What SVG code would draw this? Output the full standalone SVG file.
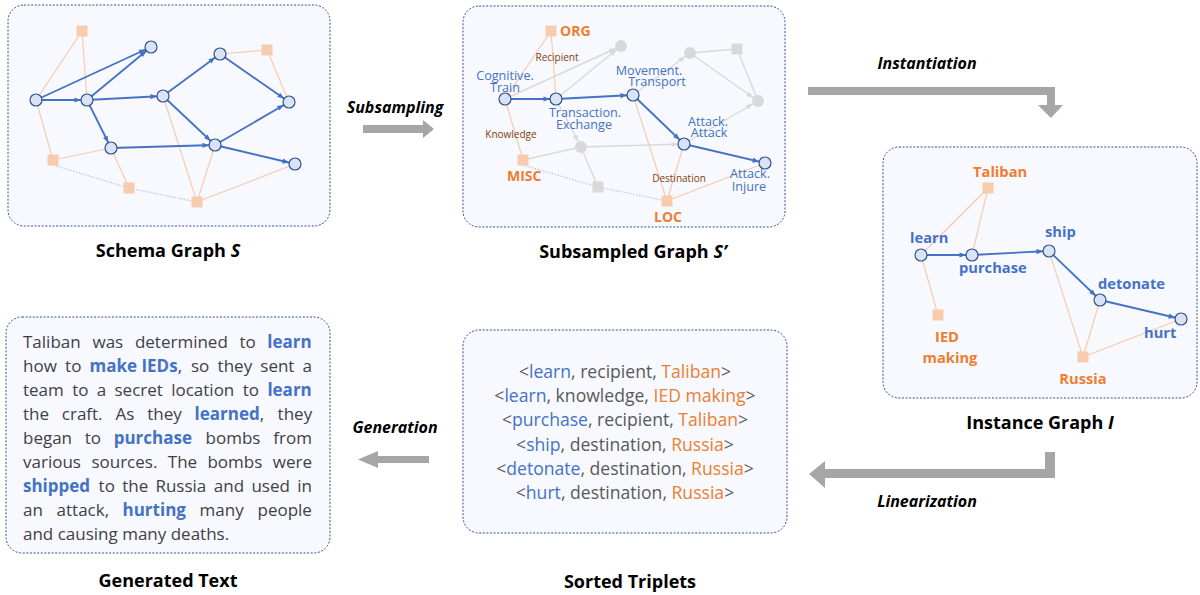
<svg xmlns="http://www.w3.org/2000/svg" width="1200" height="595" viewBox="0 0 1200 595">
  <style>
    .box { fill: #F7F9FE; stroke: #2F528F; stroke-width: 1; stroke-dasharray: 2 1.6; }
    .ev { fill: #DAE3F3; stroke: #2F528F; stroke-width: 1.2; }
    .gv { fill: #D9D9D9; }
    .ent { fill: #F8CBAD; }
    .gent { fill: #D9D9D9; }
    .be { stroke: #4472C4; stroke-width: 1.8; fill: none; marker-end: url(#ahBlue); }
    .ge { stroke: #D9D9D9; stroke-width: 1.4; fill: none; marker-end: url(#ahGrey); }
    .gl { stroke: #D9D9D9; stroke-width: 1.4; fill: none; }
    .oe { stroke: #F8CBAD; stroke-width: 1.2; fill: none; }
    .dot { stroke: #B4C7E7; stroke-width: 1.2; fill: none; stroke-dasharray: 1.5 1.5; }
    .arrow { fill: #A6A6A6; }
    .title { font-family: "Open Sans", "Liberation Sans", sans-serif; font-weight: 700; font-size: 18px; fill: #000; text-anchor: middle; }
    .step { font-family: "Open Sans", "Liberation Sans", sans-serif; font-weight: 700; font-style: italic; font-size: 16px; fill: #000; text-anchor: middle; }
    .evl { font-family: "Open Sans", "Liberation Sans", sans-serif; font-size: 12.6px; fill: #4472C4; text-anchor: middle; }
    .entl { font-family: "Open Sans", "Liberation Sans", sans-serif; font-weight: 700; font-size: 14px; fill: #ED7D31; }
    .rol { font-family: "Open Sans", "Liberation Sans", sans-serif; font-size: 10px; fill: #843C0C; text-anchor: middle; }
    .iev { font-family: "Open Sans", "Liberation Sans", sans-serif; font-weight: 700; font-size: 14.7px; fill: #4472C4; }
    .ient { font-family: "Open Sans", "Liberation Sans", sans-serif; font-weight: 700; font-size: 14.7px; fill: #ED7D31; }
    .para { font-family: "Open Sans", "Liberation Sans", sans-serif; font-size: 17px; fill: #404048; }
    .kw { font-weight: 700; fill: #4472C4; }
    .trip { font-family: "Open Sans", "Liberation Sans", sans-serif; font-size: 17.6px; fill: #595959; text-anchor: middle; }
    .tb { fill: #4472C4; }
    .to { fill: #ED7D31; }
  </style>
  <defs>
    <marker id="ahBlue" markerUnits="userSpaceOnUse" markerWidth="20" markerHeight="10" refX="12.5" refY="2.6" orient="auto" overflow="visible">
      <path d="M0,0 L6.5,2.6 L0,5.2 z" fill="#4472C4"/>
    </marker>
    <marker id="ahGrey" markerUnits="userSpaceOnUse" markerWidth="20" markerHeight="10" refX="12.5" refY="2.6" orient="auto" overflow="visible">
      <path d="M0,0 L6.5,2.6 L0,5.2 z" fill="#D9D9D9"/>
    </marker>
  </defs>

  <!-- panel frames -->
  <rect class="box" x="8" y="5" width="322" height="221" rx="16"/>
  <rect class="box" x="463" y="6" width="322" height="221" rx="16"/>
  <rect class="box" x="883" y="147" width="314" height="251" rx="16"/>
  <rect class="box" x="6" y="317" width="324" height="236" rx="16"/>
  <rect class="box" x="463" y="330" width="324" height="203" rx="16"/>

  <!-- ===== Schema graph ===== -->
  <g id="schema-connectors">
    <line class="oe" x1="82" y1="31" x2="36" y2="100"/>
    <line class="oe" x1="82" y1="31" x2="87" y2="100"/>
    <line class="oe" x1="36" y1="100" x2="53" y2="160"/>
    <line class="oe" x1="53" y1="160" x2="111" y2="148"/>
    <line class="oe" x1="111" y1="148" x2="129" y2="188"/>
    <line class="oe" x1="163" y1="96" x2="197" y2="202"/>
    <line class="oe" x1="215" y1="145" x2="197" y2="202"/>
    <line class="oe" x1="197" y1="202" x2="295" y2="164"/>
    <line class="oe" x1="220" y1="54" x2="267" y2="50"/>
    <line class="oe" x1="267" y1="50" x2="289" y2="102"/>
    <polyline class="dot" points="53,165 129,188 197,202"/>
    <line class="be" x1="36" y1="100" x2="151" y2="47"/>
    <line class="be" x1="36" y1="100" x2="87" y2="100"/>
    <line class="be" x1="87" y1="100" x2="151" y2="47"/>
    <line class="be" x1="87" y1="100" x2="163" y2="96"/>
    <line class="be" x1="87" y1="100" x2="111" y2="148"/>
    <line class="be" x1="163" y1="96" x2="220" y2="54"/>
    <line class="be" x1="163" y1="96" x2="215" y2="145"/>
    <line class="be" x1="220" y1="54" x2="289" y2="102"/>
    <line class="be" x1="111" y1="148" x2="215" y2="145"/>
    <line class="be" x1="215" y1="145" x2="289" y2="102"/>
    <line class="be" x1="215" y1="145" x2="295" y2="164"/>
  </g>
  <g id="schema-e1"><circle class="ev" cx="36" cy="100" r="6"/></g>
  <g id="schema-e2"><circle class="ev" cx="87" cy="100" r="6"/></g>
  <g id="schema-e3"><circle class="ev" cx="151" cy="47" r="6"/></g>
  <g id="schema-e4"><circle class="ev" cx="163" cy="96" r="6"/></g>
  <g id="schema-e5"><circle class="ev" cx="220" cy="54" r="6"/></g>
  <g id="schema-e6"><circle class="ev" cx="289" cy="102" r="6"/></g>
  <g id="schema-e7"><circle class="ev" cx="111" cy="148" r="6"/></g>
  <g id="schema-e8"><circle class="ev" cx="215" cy="145" r="6"/></g>
  <g id="schema-e9"><circle class="ev" cx="295" cy="164" r="6"/></g>
  <g id="schema-t1"><rect class="ent" x="76.5" y="25.5" width="11" height="11"/></g>
  <g id="schema-t2"><rect class="ent" x="261.5" y="44.5" width="11" height="11"/></g>
  <g id="schema-t3"><rect class="ent" x="47.5" y="154.5" width="11" height="11"/></g>
  <g id="schema-t4"><rect class="ent" x="123.5" y="182.5" width="11" height="11"/></g>
  <g id="schema-t5"><rect class="ent" x="191.5" y="196.5" width="11" height="11"/></g>
  <text class="title" x="168" y="257">Schema Graph <tspan font-style="italic">S</tspan></text>

  <!-- ===== Subsampled graph ===== -->
  <g id="sub-connectors">
    <line class="oe" x1="551" y1="31" x2="505" y2="99"/>
    <line class="oe" x1="551" y1="31" x2="556" y2="99"/>
    <line class="oe" x1="505" y1="99" x2="523" y2="160"/>
    <line class="gl" x1="523" y1="160" x2="581" y2="147"/>
    <line class="gl" x1="581" y1="147" x2="598" y2="187"/>
    <line class="oe" x1="633" y1="95" x2="667" y2="201"/>
    <line class="oe" x1="684" y1="144" x2="667" y2="201"/>
    <line class="oe" x1="667" y1="201" x2="765" y2="163"/>
    <line class="gl" x1="690" y1="53" x2="737" y2="49"/>
    <line class="gl" x1="737" y1="49" x2="758" y2="101"/>
    <polyline class="dot" points="523,165 598,187 667,201"/>
    <line class="ge" x1="505" y1="99" x2="621" y2="46"/>
    <line class="ge" x1="556" y1="99" x2="621" y2="46"/>
    <line class="ge" x1="556" y1="99" x2="581" y2="147"/>
    <line class="ge" x1="633" y1="95" x2="690" y2="53"/>
    <line class="ge" x1="690" y1="53" x2="758" y2="101"/>
    <line class="ge" x1="581" y1="147" x2="684" y2="144"/>
    <line class="ge" x1="684" y1="144" x2="758" y2="101"/>
    <line class="be" x1="505" y1="99" x2="556" y2="99"/>
    <line class="be" x1="556" y1="99" x2="633" y2="95"/>
    <line class="be" x1="633" y1="95" x2="684" y2="144"/>
    <line class="be" x1="684" y1="144" x2="765" y2="163"/>
  </g>
  <g id="sub-cognitive-train">
    <circle class="ev" cx="505" cy="99" r="6"/>
    <text class="evl" x="505" y="80">Cognitive.</text>
    <text class="evl" x="505" y="91.5">Train</text>
  </g>
  <g id="sub-transaction-exchange">
    <circle class="ev" cx="556" cy="99" r="6"/>
    <text class="evl" x="585" y="116.5">Transaction.</text>
    <text class="evl" x="584" y="128.5">Exchange</text>
  </g>
  <g id="sub-movement-transport">
    <circle class="ev" cx="633" cy="95" r="6"/>
    <text class="evl" x="649" y="74.5">Movement.</text>
    <text class="evl" x="657" y="86">Transport</text>
  </g>
  <g id="sub-attack-attack">
    <circle class="ev" cx="684" cy="144" r="6"/>
    <text class="evl" x="708" y="125.5">Attack.</text>
    <text class="evl" x="709" y="137">Attack</text>
  </g>
  <g id="sub-attack-injure">
    <circle class="ev" cx="765" cy="163" r="6"/>
    <text class="evl" x="750" y="177.5">Attack.</text>
    <text class="evl" x="749" y="190.5">Injure</text>
  </g>
  <g id="sub-g1"><circle class="gv" cx="621" cy="46" r="6"/></g>
  <g id="sub-g2"><circle class="gv" cx="690" cy="53" r="6"/></g>
  <g id="sub-g3"><circle class="gv" cx="758" cy="101" r="6"/></g>
  <g id="sub-g4"><circle class="gv" cx="581" cy="147" r="6"/></g>
  <g id="sub-gs1"><rect class="gent" x="731.5" y="43.5" width="11" height="11"/></g>
  <g id="sub-gs2"><rect class="gent" x="592.5" y="181.5" width="11" height="11"/></g>
  <g id="sub-org">
    <rect class="ent" x="545.5" y="25.5" width="11" height="11"/>
    <text class="entl" x="560" y="36">ORG</text>
  </g>
  <g id="sub-misc">
    <rect class="ent" x="517.5" y="154.5" width="11" height="11"/>
    <text class="entl" x="507" y="181">MISC</text>
  </g>
  <g id="sub-loc">
    <rect class="ent" x="661.5" y="195.5" width="11" height="11"/>
    <text class="entl" x="654" y="222">LOC</text>
  </g>
  <g id="sub-roles">
    <text class="rol" x="557" y="61">Recipient</text>
    <text class="rol" x="511" y="138">Knowledge</text>
    <text class="rol" x="679" y="182">Destination</text>
  </g>
  <text class="title" x="633" y="258">Subsampled Graph <tspan font-style="italic">S’</tspan></text>

  <!-- ===== Instance graph ===== -->
  <g id="inst-connectors">
    <line class="oe" x1="921" y1="255" x2="988" y2="188"/>
    <line class="oe" x1="972" y1="255" x2="988" y2="188"/>
    <line class="oe" x1="921" y1="255" x2="938" y2="315"/>
    <line class="oe" x1="1049" y1="251" x2="1083" y2="357"/>
    <line class="oe" x1="1100" y1="300" x2="1083" y2="357"/>
    <line class="oe" x1="1083" y1="357" x2="1181" y2="319"/>
    <line class="be" x1="921" y1="255" x2="972" y2="255"/>
    <line class="be" x1="972" y1="255" x2="1049" y2="251"/>
    <line class="be" x1="1049" y1="251" x2="1100" y2="300"/>
    <line class="be" x1="1100" y1="300" x2="1181" y2="319"/>
  </g>
  <g id="inst-learn">
    <circle class="ev" cx="921" cy="255" r="6"/>
    <text class="iev" x="910" y="243">learn</text>
  </g>
  <g id="inst-purchase">
    <circle class="ev" cx="972" cy="255" r="6"/>
    <text class="iev" x="959" y="273">purchase</text>
  </g>
  <g id="inst-ship">
    <circle class="ev" cx="1049" cy="251" r="6"/>
    <text class="iev" x="1045" y="237">ship</text>
  </g>
  <g id="inst-detonate">
    <circle class="ev" cx="1100" cy="300" r="6"/>
    <text class="iev" x="1098" y="289">detonate</text>
  </g>
  <g id="inst-hurt">
    <circle class="ev" cx="1181" cy="319" r="6"/>
    <text class="iev" x="1144" y="338">hurt</text>
  </g>
  <g id="inst-taliban">
    <rect class="ent" x="982.5" y="182.5" width="11" height="11"/>
    <text class="ient" x="973" y="177">Taliban</text>
  </g>
  <g id="inst-ied">
    <rect class="ent" x="932.5" y="309.5" width="11" height="11"/>
    <text class="ient" x="947" y="342" text-anchor="middle">IED</text>
    <text class="ient" x="950" y="363" text-anchor="middle">making</text>
  </g>
  <g id="inst-russia">
    <rect class="ent" x="1077.5" y="351.5" width="11" height="11"/>
    <text class="ient" x="1083" y="384" text-anchor="middle">Russia</text>
  </g>
  <text class="title" x="1040" y="429">Instance Graph <tspan font-style="italic">I</tspan></text>

  <!-- ===== Generated text (justified word by word) ===== -->
  <g id="generated-text" class="para">
    <text y="347.5"><tspan x="23">Taliban</tspan> <tspan x="92.5">was</tspan> <tspan x="134.9">determined</tspan> <tspan x="239.5">to</tspan> <tspan x="267.3" class="kw">learn</tspan></text>
    <text y="371.6"><tspan x="23">how</tspan> <tspan x="65.1">to</tspan> <tspan x="89.5" class="kw">make IEDs</tspan><tspan>,</tspan> <tspan x="191">so</tspan> <tspan x="217.6">they</tspan> <tspan x="260.3">sent</tspan> <tspan x="302.6">a</tspan></text>
    <text y="395.7"><tspan x="23">team</tspan> <tspan x="72.2">to</tspan> <tspan x="96.7">a</tspan> <tspan x="114.5">secret</tspan> <tspan x="171.2">location</tspan> <tspan x="242.8">to</tspan> <tspan x="267.4" class="kw">learn</tspan></text>
    <text y="419.8"><tspan x="23">the</tspan> <tspan x="61.8">craft.</tspan> <tspan x="115.5">As</tspan> <tspan x="147.3">they</tspan> <tspan x="194.6" class="kw">learned</tspan><tspan>,</tspan> <tspan x="277.6">they</tspan></text>
    <text y="443.9"><tspan x="23">began</tspan> <tspan x="84.8">to</tspan> <tspan x="113.7" class="kw">purchase</tspan> <tspan x="205.6">bombs</tspan> <tspan x="273.3">from</tspan></text>
    <text y="468"><tspan x="23">various</tspan> <tspan x="91.4">sources.</tspan> <tspan x="167.8">The</tspan> <tspan x="207.4">bombs</tspan> <tspan x="272.8">were</tspan></text>
    <text y="492.1"><tspan x="23" class="kw">shipped</tspan> <tspan x="98.6">to</tspan> <tspan x="122.2">the</tspan> <tspan x="155.4">Russia</tspan> <tspan x="213.8">and</tspan> <tspan x="251.4">used</tspan> <tspan x="297.2">in</tspan></text>
    <text y="516.2"><tspan x="23">an</tspan> <tspan x="56.6">attack,</tspan> <tspan x="122.5" class="kw">hurting</tspan> <tspan x="199.6">many</tspan> <tspan x="257.5">people</tspan></text>
    <text y="540.3" x="23">and causing many deaths.</text>
  </g>
  <text class="title" x="168" y="587">Generated Text</text>

  <!-- ===== Sorted triplets ===== -->
  <g id="sorted-triplets" class="trip">
    <text x="625" y="378">&lt;<tspan class="tb">learn</tspan>, recipient, <tspan class="to">Taliban</tspan>&gt;</text>
    <text x="625" y="402.2">&lt;<tspan class="tb">learn</tspan>, knowledge, <tspan class="to">IED making</tspan>&gt;</text>
    <text x="625" y="426.4">&lt;<tspan class="tb">purchase</tspan>, recipient, <tspan class="to">Taliban</tspan>&gt;</text>
    <text x="625" y="450.6">&lt;<tspan class="tb">ship</tspan>, destination, <tspan class="to">Russia</tspan>&gt;</text>
    <text x="625" y="474.8">&lt;<tspan class="tb">detonate</tspan>, destination, <tspan class="to">Russia</tspan>&gt;</text>
    <text x="625" y="499">&lt;<tspan class="tb">hurt</tspan>, destination, <tspan class="to">Russia</tspan>&gt;</text>
  </g>
  <text class="title" x="630" y="588">Sorted Triplets</text>

  <!-- ===== Process arrows ===== -->
  <g id="step-subsampling">
    <polygon class="arrow" points="363,125 423,125 423,120 434,129 423,138 423,133 363,133"/>
    <text class="step" x="395" y="113">Subsampling</text>
  </g>
  <g id="step-instantiation">
    <polygon class="arrow" points="808,87 1055,87 1055,105 1063,105 1051,118 1038,105 1047,105 1047,95 808,95"/>
    <text class="step" x="927" y="69">Instantiation</text>
  </g>
  <g id="step-linearization">
    <polygon class="arrow" points="1045,452 1055,452 1055,478 825,478 825,488 809,474 825,461 825,469 1045,469"/>
    <text class="step" x="927" y="507">Linearization</text>
  </g>
  <g id="step-generation">
    <polygon class="arrow" points="429,456 429,463 378,463 378,468 358,459.5 378,451 378,456"/>
    <text class="step" x="395" y="433">Generation</text>
  </g>
</svg>
